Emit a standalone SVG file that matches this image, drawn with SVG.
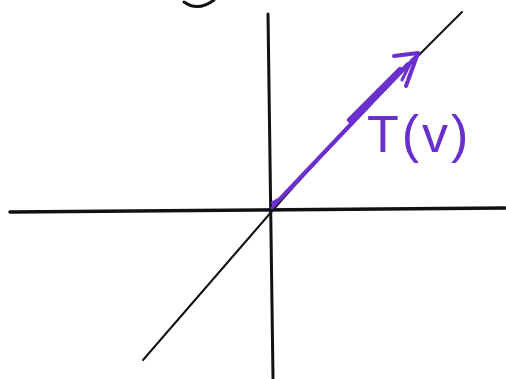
<svg xmlns="http://www.w3.org/2000/svg" width="506" height="379" viewBox="0 0 506 379">
<style>
.ax{stroke:#111;fill:none;stroke-linecap:round}
.pv{stroke:#6a2fcc;fill:none;stroke-linecap:round;stroke-linejoin:round}
.lbl{font-family:"Liberation Sans",sans-serif;font-size:52px;fill:#6a2fcc;letter-spacing:3px}
</style>
<rect width="506" height="379" fill="#fff"/>
<g id="connectors">
<path class="ax" d="M184,2 Q198,12 214,0" stroke-width="3"/>
<path class="ax" d="M268,14 L273,378" stroke-width="3"/>
<path class="ax" d="M10,212 L505,208" stroke-width="3.5"/>
<path class="ax" d="M143,360 Q205,288 273,210 T462,12" stroke-width="2"/>
</g>
<g id="vector">
<path class="pv" d="M272,208 L416,56" stroke-width="3"/>
<path class="pv" d="M273,203 L280,199 L408,64" stroke-width="4"/>
<path class="pv" d="M350,120 L400,70" stroke-width="6"/>
<path class="pv" d="M394,56 L418,53 L406,86" stroke-width="4"/>
<path class="pv" d="M412,60 L402,80" stroke-width="3"/>
</g>
<g id="label">
<text class="lbl" x="367" y="152">T(v)</text>
</g>
</svg>
